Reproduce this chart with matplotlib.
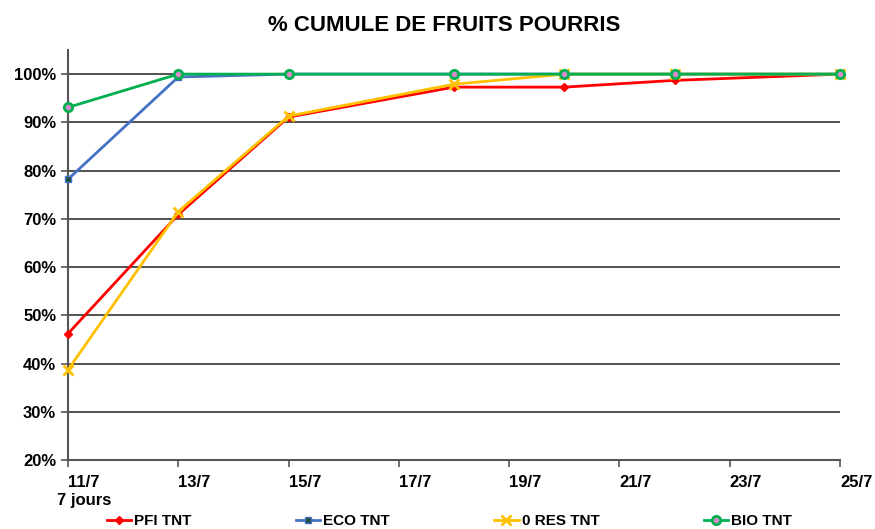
import matplotlib.pyplot as plt

# days of July where the counts were taken
days = [11, 13, 15, 18, 20, 22, 25]
tick_days = [11, 13, 15, 17, 19, 21, 23, 25]
tick_labels = [f"{d}/7" for d in tick_days]

pfi = [46.2, 70.9, 91.1, 97.3, 97.3, 98.7, 100]
eco = [78.2, 99.4, 100, 100, 100, 100, 100]
zero_res = [38.7, 71.5, 91.3, 97.9, 100, 100, 100]
bio = [93.1, 100, 100, 100, 100, 100, 100]

plt.rcParams['font.family'] = ['Liberation Sans', 'DejaVu Sans']

fig = plt.figure(figsize=(8.75, 5.29), dpi=100)
ax = fig.add_axes([0.0777, 0.1304, 0.8823, 0.7751])

ax.plot(days, pfi, color='#FF0000', lw=2, marker='D', ms=4, mfc='#FF0000',
        mec='#FF0000', label='PFI TNT', zorder=3, clip_on=False)
ax.plot(days, eco, color='#4472C4', lw=2, marker='s', ms=5, mfc='#1F4E3D',
        mec='#4472C4', label='ECO TNT', zorder=3, clip_on=False)
ax.plot(days, zero_res, color='#FFC000', lw=2, marker='x', ms=7, mew=2,
        mec='#FFC000', label='0 RES TNT', zorder=4, clip_on=False)
ax.plot(days, bio, color='#00B050', lw=2, marker='o', ms=6, mfc='#D98CC8',
        mec='#00B050', mew=2, label='BIO TNT', zorder=5, clip_on=False)

ax.set_xlim(11, 25)
ax.set_ylim(20, 105)
ax.set_yticks(range(20, 101, 10))
ax.set_yticklabels([f"{v}%" for v in range(20, 101, 10)])
ax.set_xticks(tick_days)
ax.set_xticklabels(tick_labels, ha='left')
ax.yaxis.grid(True, color='#333333', lw=1.2)
ax.set_axisbelow(True)

for side in ['top', 'right']:
    ax.spines[side].set_visible(False)
for side in ['left', 'bottom']:
    ax.spines[side].set_color('#555555')
    ax.spines[side].set_linewidth(1.5)

ax.tick_params(axis='both', labelsize=12, colors='#555555', length=5, width=1.2)
ax.tick_params(axis='x', pad=6)
for lab in ax.get_xticklabels() + ax.get_yticklabels():
    lab.set_fontweight('bold')
    lab.set_color('black')

ax.text(11.3, -0.08, "7 jours", transform=ax.get_xaxis_transform(),
        ha='center', va='top', fontsize=12, fontweight='bold')

ax.set_title("% CUMULE DE FRUITS POURRIS", fontsize=16, fontweight='bold',
             pad=14, x=0.487)

fig.legend(loc='lower left', bbox_to_anchor=(0.106, -0.025, 0.815, 0.06),
           mode='expand', ncol=4, frameon=False, handlelength=1.6,
           handletextpad=0.2, prop={'weight': 'bold', 'size': 11})

fig.savefig("out.png", dpi=100)
